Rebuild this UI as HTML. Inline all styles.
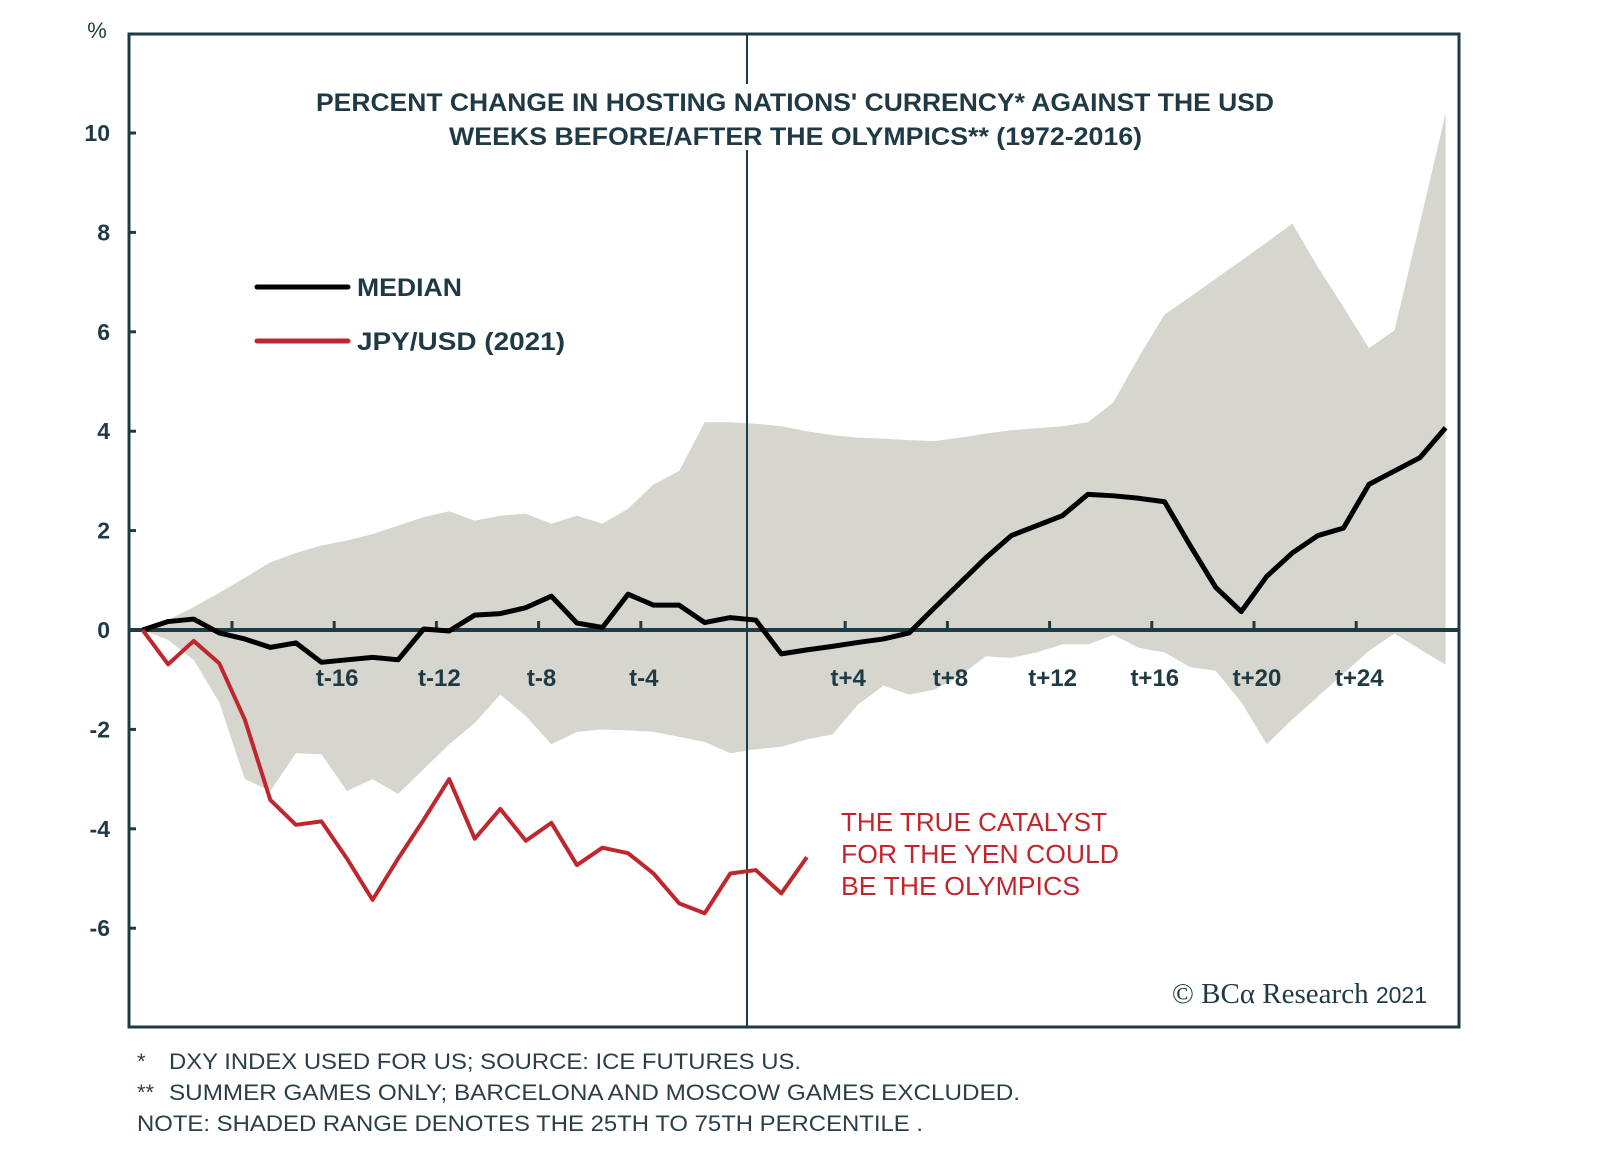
<!DOCTYPE html>
<html><head><meta charset="utf-8"><style>
html,body{margin:0;padding:0;background:#fff;}
svg{display:block;font-family:"Liberation Sans",sans-serif;}
</style></head><body>
<svg width="1600" height="1151" viewBox="0 0 1600 1151">
<g id="band"></g>
<g id="axes"></g>
<g id="series"></g>
<rect x="300" y="84" width="990" height="66" fill="#fff"/>
<text x="316" y="111" textLength="958" lengthAdjust="spacingAndGlyphs" font-size="25" font-weight="bold" fill="#1f3a44">PERCENT CHANGE IN HOSTING NATIONS' CURRENCY* AGAINST THE USD</text>
<text x="449" y="145" textLength="693" lengthAdjust="spacingAndGlyphs" font-size="25" font-weight="bold" fill="#1f3a44">WEEKS BEFORE/AFTER THE OLYMPICS** (1972-2016)</text>
<line x1="257" y1="287" x2="348" y2="287" stroke="#000" stroke-width="5" stroke-linecap="round"/>
<text x="357" y="296" textLength="105" lengthAdjust="spacingAndGlyphs" font-size="25" font-weight="bold" fill="#1f3a44">MEDIAN</text>
<line x1="257" y1="341" x2="348" y2="341" stroke="#c0272d" stroke-width="5" stroke-linecap="round"/>
<text x="357" y="350" textLength="208" lengthAdjust="spacingAndGlyphs" font-size="25" font-weight="bold" fill="#1f3a44">JPY/USD (2021)</text>
<text x="97" y="38" text-anchor="middle" font-size="22" fill="#1f3a44">%</text>
<g font-size="26" fill="#c0272d">
<text x="841" y="831" textLength="266" lengthAdjust="spacingAndGlyphs">THE TRUE CATALYST</text>
<text x="841" y="863" textLength="278" lengthAdjust="spacingAndGlyphs">FOR THE YEN COULD</text>
<text x="841" y="895" textLength="239" lengthAdjust="spacingAndGlyphs">BE THE OLYMPICS</text>
</g>
<text x="1427" y="1003" text-anchor="end" font-family="Liberation Serif,serif" font-size="29" fill="#1f3a44">© BCα Research <tspan font-family="Liberation Sans,sans-serif" font-size="23">2021</tspan></text>
<g font-size="22" fill="#2a3f48">
<text x="137" y="1069">*</text>
<text x="169" y="1069" textLength="632" lengthAdjust="spacingAndGlyphs">DXY INDEX USED FOR US; SOURCE: ICE FUTURES US.</text>
<text x="137" y="1100">**</text>
<text x="169" y="1100" textLength="851" lengthAdjust="spacingAndGlyphs">SUMMER GAMES ONLY; BARCELONA AND MOSCOW GAMES EXCLUDED.</text>
<text x="137" y="1131" textLength="786" lengthAdjust="spacingAndGlyphs">NOTE: SHADED RANGE DENOTES THE 25TH TO 75TH PERCENTILE .</text>
</g>
</svg>
<script>
const weeks = [];
for (let i = 0; i < 52; i++) weeks.push(-23.5 + i);
const median = [0,0.17,0.22,-0.06,-0.18,-0.35,-0.26,-0.65,-0.6,-0.55,-0.6,0.02,-0.02,0.3,0.33,0.45,0.68,0.14,0.05,0.72,0.5,0.5,0.15,0.25,0.2,-0.48,-0.4,-0.33,-0.25,-0.18,-0.06,0.45,0.95,1.45,1.9,2.1,2.3,2.73,2.7,2.65,2.58,1.7,0.86,0.37,1.08,1.55,1.9,2.05,2.93,3.2,3.47,4.07];
const jpy = [0,-0.69,-0.22,-0.67,-1.8,-3.42,-3.92,-3.85,-4.6,-5.43,-4.6,-3.82,-3.0,-4.2,-3.6,-4.24,-3.88,-4.73,-4.38,-4.49,-4.9,-5.5,-5.7,-4.9,-4.83,-5.3,-4.57];
const upper = [0,0.2,0.46,0.75,1.05,1.36,1.55,1.7,1.8,1.93,2.1,2.27,2.39,2.2,2.3,2.34,2.14,2.3,2.14,2.44,2.93,3.2,4.18,4.18,4.15,4.1,4.0,3.92,3.87,3.85,3.82,3.8,3.87,3.95,4.02,4.06,4.1,4.18,4.58,5.5,6.35,6.7,7.07,7.43,7.8,8.18,7.3,6.5,5.67,6.03,8.2,10.4];
const lower = [0,-0.2,-0.6,-1.45,-3.0,-3.24,-2.48,-2.5,-3.24,-3.0,-3.3,-2.8,-2.3,-1.87,-1.3,-1.73,-2.3,-2.05,-2.0,-2.02,-2.05,-2.15,-2.25,-2.48,-2.4,-2.35,-2.2,-2.1,-1.5,-1.12,-1.3,-1.2,-0.92,-0.53,-0.56,-0.45,-0.29,-0.29,-0.1,-0.36,-0.45,-0.75,-0.82,-1.45,-2.3,-1.8,-1.34,-0.88,-0.42,-0.07,-0.39,-0.7];
const yTicks = [10,8,6,4,2,0,-2,-4,-6];
const xTicks = [-20,-16,-12,-8,-4,4,8,12,16,20,24];
const xTickLabels = ["","t-16","t-12","t-8","t-4","t+4","t+8","t+12","t+16","t+20","t+24"];

const NS = "http://www.w3.org/2000/svg";
const X = w => 743 + 25.55 * w;
const Y = v => 630 - 49.7 * v;
function mk(tag, attrs, parent) {
  const e = document.createElementNS(NS, tag);
  for (const k in attrs) e.setAttribute(k, attrs[k]);
  parent.appendChild(e);
  return e;
}
const band = document.getElementById('band');
const axes = document.getElementById('axes');
const series = document.getElementById('series');

let d = weeks.map((w, i) => (i ? 'L' : 'M') + X(w) + ',' + Y(upper[i])).join('');
for (let i = weeks.length - 1; i >= 0; i--) d += 'L' + X(weeks[i]) + ',' + Y(lower[i]);
const bp = mk('path', {d: d + 'Z', fill: '#d6d6ce'}, band);



const vl = mk('line', {x1: 747, y1: 34, x2: 747, y2: 1027, stroke: '#1e3b45', 'stroke-width': 2}, axes);


const fr = mk('rect', {x: 129, y: 34, width: 1330, height: 993, fill: 'none', stroke: '#1e3b45', 'stroke-width': 3}, axes);


const zl = mk('line', {x1: 129, y1: Y(0), x2: 1459, y2: Y(0), stroke: '#1e3b45', 'stroke-width': 4}, axes);



yTicks.forEach(v => {
  const t = mk('line', {x1: 129, y1: Y(v), x2: 136, y2: Y(v), stroke: '#1e3b45', 'stroke-width': 3}, axes);
  
  
  const l = mk('text', {x: 110, y: Y(v) + 8, 'text-anchor': 'end', 'font-size': 23, 'font-weight': 'bold', fill: '#1f3a44'}, axes);
  l.textContent = v;
  
  
});
xTicks.forEach((w, i) => {
  const t = mk('line', {x1: X(w), y1: Y(0), x2: X(w), y2: Y(0) - 9, stroke: '#1e3b45', 'stroke-width': 3}, axes);
  
  
  if (xTickLabels[i]) {
    const l = mk('text', {x: X(w) + 3, y: Y(0) + 56, 'text-anchor': 'middle', 'font-size': 24, 'font-weight': 'bold', fill: '#1f3a44'}, axes);
    l.textContent = xTickLabels[i];
    
    
  }
});

const mp = mk('path', {d: median.map((v, i) => (i ? 'L' : 'M') + X(weeks[i]) + ',' + Y(v)).join(''), fill: 'none', stroke: '#000', 'stroke-width': 5, 'stroke-linejoin': 'round'}, series);


const jp = mk('path', {d: jpy.map((v, i) => (i ? 'L' : 'M') + X(weeks[i]) + ',' + Y(v)).join(''), fill: 'none', stroke: '#c0272d', 'stroke-width': 4, 'stroke-linejoin': 'round'}, series);


</script>
</body></html>
